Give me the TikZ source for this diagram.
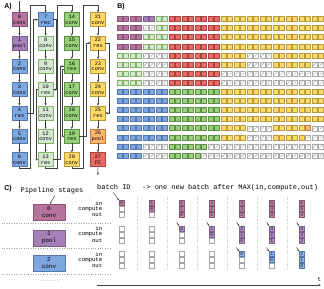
\documentclass[tikz,border=0pt]{standalone}
\usepackage{fontspec}
\setmainfont{Liberation Sans}
\newfontfamily\mono{Liberation Mono}
\usetikzlibrary{arrows.meta,calc}
\definecolor{cP}{HTML}{B5739D}\definecolor{cPd}{HTML}{8A5578}
\definecolor{cQ}{HTML}{A680B8}\definecolor{cQd}{HTML}{7E5F8E}
\definecolor{cB}{HTML}{7EA6E0}\definecolor{cBd}{HTML}{5577AA}
\definecolor{cL}{HTML}{D5E8D4}\definecolor{cLd}{HTML}{82B366}
\definecolor{cG}{HTML}{97D077}\definecolor{cGd}{HTML}{5E8F46}
\definecolor{cY}{HTML}{FFD966}\definecolor{cYd}{HTML}{B89B3E}
\definecolor{cO}{HTML}{FFB570}\definecolor{cOd}{HTML}{C07F3C}
\definecolor{cR}{HTML}{EA6B66}\definecolor{cRd}{HTML}{A84440}
\makeatletter
\newcount\bcol
\def\brow#1#2{\bcol=0 \def\b@r{#1}\b@parse#2\@nil}
\def\b@parse#1{\ifx#1\@nil\else\b@cell{#1}\advance\bcol by 1 \expandafter\b@parse\fi}
\def\b@cell#1{\path[bc#1] ({119.5+6.5*\the\bcol-2.5},{19+9.1*\b@r-2.5}) rectangle ++(5,5);}
\makeatother
\tikzset{
 bcP/.style={fill=cP,draw=cPd,line width=0.45bp},
 bcQ/.style={fill=cQ,draw=cQd,line width=0.45bp},
 bcB/.style={fill=cB,draw=cBd,line width=0.45bp},
 bcL/.style={fill=cL,draw=cLd,line width=0.45bp},
 bcG/.style={fill=cG,draw=cGd,line width=0.45bp},
 bcY/.style={fill=cY,draw=cYd,line width=0.45bp},
 bcO/.style={fill=cO,draw=cOd,line width=0.45bp},
 bcR/.style={fill=cR,draw=cRd,line width=0.45bp},
 bcx/.style={fill=white,draw=gray!65,line width=0.4bp,
   path picture={\draw[gray!80,line width=0.4bp]
     ([xshift=1.2bp,yshift=1.2bp]path picture bounding box.south west) --
     ([xshift=-1.2bp,yshift=-1.2bp]path picture bounding box.north east);}},
 abox/.style={rectangle,minimum width=14.5bp,minimum height=14bp,inner sep=0,
   align=center,font=\mono\fontsize{5.3}{5.7}\selectfont,line width=0.45bp},
 cbox/.style={rectangle,minimum width=32bp,minimum height=16bp,inner sep=0,
   align=center,font=\mono\fontsize{6}{7}\selectfont,line width=0.45bp},
 lbl/.style={font=\bfseries\fontsize{7}{7}\selectfont,inner sep=0},
 monotxt/.style={font=\mono\fontsize{7}{7}\selectfont,inner sep=0},
 rowlbl/.style={font=\mono\fontsize{5.7}{6}\selectfont,inner sep=0,anchor=east},
 conn/.style={draw=black!75,line width=0.45bp,-{Stealth[length=2.6bp,width=2.2bp]}},
 sarr/.style={draw=black!80,line width=0.4bp,-{Stealth[length=2bp,width=1.8bp]}},
 cempty/.style={rectangle,draw=gray!70,fill=white,minimum size=5bp,inner sep=0,line width=0.35bp},
 cfull/.style={rectangle,minimum size=5bp,inner sep=0,line width=0.35bp,
   font=\mono\fontsize{4.8}{4.8}\selectfont,text=black!85},
 dotl/.style={draw=gray!70,line width=0.4bp,dotted},
}
\begin{document}
\begin{tikzpicture}[x=1bp,y=-1bp]
\useasboundingbox (0,0) rectangle (324,289);
% ---------------- A
\node[lbl] (la) at (8,7) {A)};
\foreach \i/\t/\c in {0/conv/P,1/pool/Q,2/conv/B,3/conv/B,4/res/B,5/conv/B,6/conv/B,
  7/res/B,8/conv/L,9/conv/L,10/res/L,11/conv/L,12/conv/L,13/res/L,
  14/conv/G,15/conv/G,16/res/G,17/conv/G,18/conv/G,19/res/G,20/conv/Y,
  21/conv/Y,22/res/Y,23/conv/Y,24/conv/Y,25/res/Y,26/pool/O,27/FC/R}{
  \pgfmathtruncatemacro\col{int(\i/7)}
  \pgfmathtruncatemacro\row{mod(\i,7)}
  \node[abox,fill=c\c,draw=c\c d] (a\i) at ({19.5+26.15*\col},{19.7+23.3*\row}) {\i\\\t};
}
\foreach \i in {0,...,26}{
  \pgfmathtruncatemacro\j{\i+1}
  \pgfmathtruncatemacro\m{mod(\i,7)}
  \ifnum\m<6 \draw[conn] (a\i) -- (a\j);\fi
}
\coordinate (ain) at (19.5,1);
\coordinate (aout) at (97.95,175);
\draw[conn] (ain) -- (a0);
\draw[conn] (a27) -- (aout);
\draw[conn] (a6.south) |- (30.5,168.5) -- (30.5,5) -| (a7.north);
\draw[conn] (a13.south) |- (57.5,168.5) -- (57.5,5) -| (a14.north);
\draw[conn] (a20.south) |- (83.5,168.5) -- (83.5,5) -| (a21.north);
\draw[conn] (a4.east) -- (a4.east -| 33.5,0) |- (a7.west);
\draw[conn] (a7.east) -- (a7.east -| 55.8,0) |- (a10.east);
\draw[conn] (a10.west) -- (a10.west -| 35.9,0) |- (a13.west);
\draw[conn] (a13.east) -- (a13.east -| 59.8,0) |- (a16.west);
\draw[conn] ([yshift=-3bp]a16.west) -- ([yshift=-3bp]a16.west -| 62.2,0) |- (a19.west);
\draw[conn] (a19.east) -- (a19.east -| 86.6,0) |- (a22.west);
\draw[conn] (a22.east) -- (a22.east -| 109.5,0) |- (a25.east);
% ---------------- B
\node[lbl] (lb) at (121,7) {B)};
\brow{0}{PPPPQQLLRRRRRRRRYYYYYYYYYYYYYYYY}
\brow{1}{PPPPxxLLRRRRRRRRYYYYYYYYYYYYYYYY}
\brow{2}{PPPPLLLLRRRRRRRRYYYYYYYYYYYYYYYY}
\brow{3}{PPPPLLLLRRRRRRRRYYYYYYYYYYYYYYYY}
\brow{4}{LLLLxxxxRRRRRRRRYYYYxxxxYYYYYYYY}
\brow{5}{LLLLxxxxRRRRRRRRYYYYxxxxYYYYYYxx}
\brow{6}{LLLLxxxxRRRRRRRRxxxxxxxxxxxxxxxx}
\brow{7}{LLLLxxxxRRRRRRRRxxxxxxxxxxxxxxxx}
\brow{8}{BBBBBBBBGGGGGGGGYYYYYYYYYYYYYYYY}
\brow{9}{BBBBBBBBGGGGGGGGYYYYYYYYYYYYYYYY}
\brow{10}{BBBBBBBBGGGGGGGGYYYYYYYYYYYYYYYY}
\brow{11}{BBBBBBBBGGGGGGGGYYYYYYYYYYYYYYYY}
\brow{12}{BBBBBBBBGGGGGGGGYYYYxxxxYYYYYOxx}
\brow{13}{BBBBBBBBGGGGGGGGYYYYxxxxYYYYYxxx}
\brow{14}{BBBBxxxxGGGGGGxxxxxxxxxxxxxxxxxx}
\brow{15}{BBBBxxxxGGGGGxxxxxxxxxxxxxxxxxxx}
% ---------------- C
\node[lbl] (lc) at (8,189) {C)};
\node[monotxt] (ps) at (52,190.5) {Pipeline stages};
\node[monotxt,anchor=west] (bid) at (97,187.5) {batch ID};
\node[monotxt,anchor=west] (note) at (142,187.5) {-> one new batch after MAX(in,compute,out)};
\foreach \s/\n/\t/\c in {0/0/conv/P,1/1/pool/Q,2/2/conv/B}{
  \node[cbox,fill=c\c,draw=c\c d] (c\s) at (49,{212.5+25.5*\s}) {\n\\\t};
  \foreach \k/\w in {0/in,1/compute,2/out}{
    \node[rowlbl] (l\s\k) at (102.5,{203+25.5*\s+6*\k}) {\w};
  }
}
\foreach \s in {0,1,2}{
  \draw[dotl] (2,{222.8+25.5*\s}) -- (110,{222.8+25.5*\s});
}
\foreach \k in {0,...,5}{
  \draw[dotl,gray!45] ({136.7+30*\k},197) -- ({136.7+30*\k},270);
}
\foreach \s/\c in {0/P,1/Q,2/B}{
  \foreach \k in {0,1,2}{
    \foreach \t in {0,...,6}{
      \pgfmathtruncatemacro\b{\t-2*\s-\k}
      \ifnum\b<0
        \node[cempty] (x\s\k\t) at ({121.7+30*\t},{203+25.5*\s+6*\k}) {};
      \else
        \node[cfull,fill=c\c!85,draw=c\c d] (x\s\k\t) at ({121.7+30*\t},{203+25.5*\s+6*\k}) {\b};
      \fi
    }
  }
}
\foreach \s in {1,2}{
  \foreach \t in {0,...,6}{
    \pgfmathtruncatemacro\b{\t-2*\s}
    \ifnum\b<0\else
      \draw[sarr] ($(x\s0\t.north west)+(-2.5,-4)$) -- (x\s0\t.north west);
    \fi
  }
}
\draw[sarr] ($(bid.south west)+(16,2)$) -- (x000.north west);
\draw[sarr] ($(ps.south)+(3,1.5)$) -- ($(c0.north)+(1,-0.5)$);
\coordinate (zt) at (92,197.5);
\coordinate (zb) at (88,223.5);
\draw[dotl,gray!60] (c0.north east) -- (zt);
\draw[dotl,gray!60] (c0.south east) -- (zb);
\node[font=\mono\fontsize{5}{5}\selectfont,text=gray,inner sep=0] (dots) at (50,281.5) {.......};
\coordinate (t0) at (97,285);
\coordinate (t1) at (321,285);
\draw[conn] (t0) -- (t1);
\node[font=\mono\fontsize{6}{6}\selectfont,inner sep=0] (tl) at (319.5,279.5) {t};
\end{tikzpicture}
\end{document}
